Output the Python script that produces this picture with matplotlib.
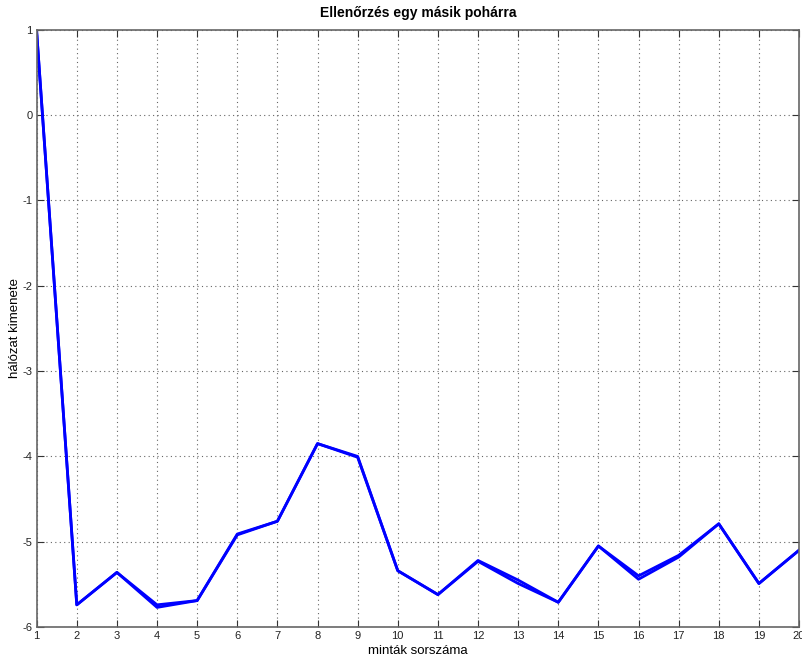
import numpy as np
import matplotlib.pyplot as plt

# minták sorszáma
x = list(range(1, 21))
# két közel azonos futás (a vastagabb szakaszok két vonal átfedése)
y_a = [0.98, -5.74, -5.36, -5.74, -5.69, -4.91, -4.76, -3.85, -4.00, -5.34,
       -5.62, -5.23, -5.49, -5.71, -5.05, -5.44, -5.18, -4.79, -5.49, -5.10]
y_b = [0.98, -5.74, -5.36, -5.77, -5.69, -4.92, -4.76, -3.85, -4.01, -5.34,
       -5.62, -5.22, -5.45, -5.71, -5.05, -5.40, -5.16, -4.79, -5.49, -5.10]

xticks = list(range(1, 21))
yticks = [-6, -5, -4, -3, -2, -1, 0, 1]

plt.rcParams['font.family'] = ['Liberation Sans Narrow', 'Liberation Sans', 'DejaVu Sans']
plt.rcParams['axes.unicode_minus'] = False

fig = plt.figure(figsize=(8.02, 6.64), dpi=100)
ax = fig.add_axes([0.0457, 0.0557, 0.9506, 0.8993])

ax.plot(x, y_a, color='#0000ff', linewidth=2.0)
ax.plot(x, y_b, color='#0000ff', linewidth=2.0)

ax.set_xlim(1, 20)
ax.set_ylim(-6, 1)
ax.set_xticks(xticks)
ax.set_yticks(yticks)
ax.grid(True, linestyle=(0, (1, 3)), color='#666666', linewidth=0.8)
ax.tick_params(direction='in', top=True, right=True, length=5, labelsize=8,
               color='#333333', labelcolor='#222222', pad=3)
for s in ax.spines.values():
    s.set_color('#666666')
    s.set_linewidth(1.2)

ax.set_title('Ellenőrzés egy másik pohárra', fontsize=10, fontweight='bold', pad=9)
ax.set_xlabel('minták sorszáma', fontsize=9.5, labelpad=3)
ax.set_ylabel('hálózat kimenete', fontsize=9.5)
ax.yaxis.set_label_coords(-0.02, 0.5)

fig.savefig('out.png', dpi=100)
